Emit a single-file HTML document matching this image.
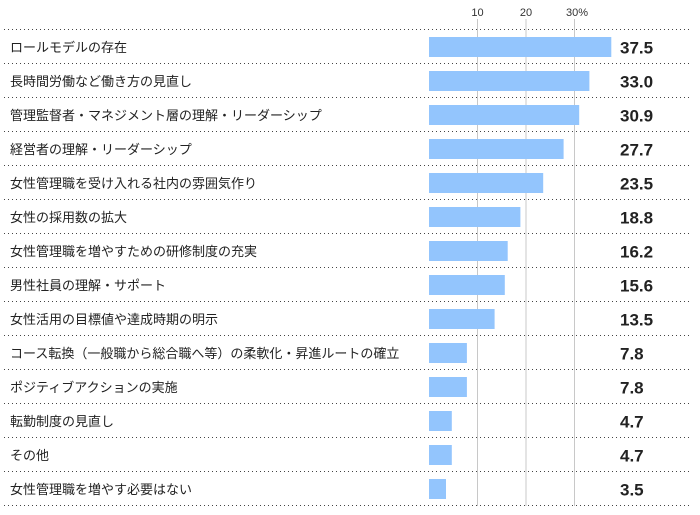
<!DOCTYPE html>
<html><head><meta charset="utf-8"><style>body{margin:0;background:#fff}svg{display:block}</style></head><body>
<svg width="700" height="515" xmlns="http://www.w3.org/2000/svg" font-family="'Liberation Sans','Noto Sans CJK JP',sans-serif">
<g stroke="#c8c8c8" stroke-width="1">
<line x1="477.5" y1="19" x2="477.5" y2="506"/><line x1="526" y1="19" x2="526" y2="506"/><line x1="574.5" y1="19" x2="574.5" y2="506"/>
</g>
<g font-size="11" fill="#333" text-anchor="middle"><text x="477.5" y="16">10</text><text x="526" y="16">20</text><text x="577" y="16">30%</text></g>
<g stroke="#444" stroke-dasharray="1,3">
<line x1="4" y1="29.5" x2="692" y2="29.5"/><line x1="4" y1="63.5" x2="692" y2="63.5"/><line x1="4" y1="97.5" x2="692" y2="97.5"/><line x1="4" y1="131.5" x2="692" y2="131.5"/><line x1="4" y1="165.5" x2="692" y2="165.5"/><line x1="4" y1="199.5" x2="692" y2="199.5"/><line x1="4" y1="233.5" x2="692" y2="233.5"/><line x1="4" y1="267.5" x2="692" y2="267.5"/><line x1="4" y1="301.5" x2="692" y2="301.5"/><line x1="4" y1="335.5" x2="692" y2="335.5"/><line x1="4" y1="369.5" x2="692" y2="369.5"/><line x1="4" y1="403.5" x2="692" y2="403.5"/><line x1="4" y1="437.5" x2="692" y2="437.5"/><line x1="4" y1="471.5" x2="692" y2="471.5"/><line x1="4" y1="505.5" x2="692" y2="505.5"/>
</g>
<g fill="#93c5fd">
<rect x="429" y="37" width="182.3" height="20"/><rect x="429" y="71" width="160.4" height="20"/><rect x="429" y="105" width="150.2" height="20"/><rect x="429" y="139" width="134.6" height="20"/><rect x="429" y="173" width="114.2" height="20"/><rect x="429" y="207" width="91.4" height="20"/><rect x="429" y="241" width="78.7" height="20"/><rect x="429" y="275" width="75.8" height="20"/><rect x="429" y="309" width="65.6" height="20"/><rect x="429" y="343" width="37.9" height="20"/><rect x="429" y="377" width="37.9" height="20"/><rect x="429" y="411" width="22.8" height="20"/><rect x="429" y="445" width="22.8" height="20"/><rect x="429" y="479" width="17" height="20"/>
</g>
<g font-size="13" fill="#222">
<text x="10" y="52">ロールモデルの存在</text>
<text x="10" y="86">長時間労働など働き方の見直し</text>
<text x="10" y="120">管理監督者・マネジメント層の理解・リーダーシップ</text>
<text x="10" y="154">経営者の理解・リーダーシップ</text>
<text x="10" y="188">女性管理職を受け入れる社内の雰囲気作り</text>
<text x="10" y="222">女性の採用数の拡大</text>
<text x="10" y="256">女性管理職を増やすための研修制度の充実</text>
<text x="10" y="290">男性社員の理解・サポート</text>
<text x="10" y="324">女性活用の目標値や達成時期の明示</text>
<text x="10" y="358">コース転換（一般職から総合職へ等）の柔軟化・昇進ルートの確立</text>
<text x="10" y="392">ポジティブアクションの実施</text>
<text x="10" y="426">転勤制度の見直し</text>
<text x="10" y="460">その他</text>
<text x="10" y="494">女性管理職を増やす必要はない</text>
</g>
<g font-size="17" font-weight="bold" fill="#222">
<text x="620" y="53.5">37.5</text><text x="620" y="87.5">33.0</text><text x="620" y="121.5">30.9</text><text x="620" y="155.5">27.7</text><text x="620" y="189.5">23.5</text><text x="620" y="223.5">18.8</text><text x="620" y="257.5">16.2</text><text x="620" y="291.5">15.6</text><text x="620" y="325.5">13.5</text><text x="620" y="359.5">7.8</text><text x="620" y="393.5">7.8</text><text x="620" y="427.5">4.7</text><text x="620" y="461.5">4.7</text><text x="620" y="495.5">3.5</text>
</g>
</svg>
</body></html>
